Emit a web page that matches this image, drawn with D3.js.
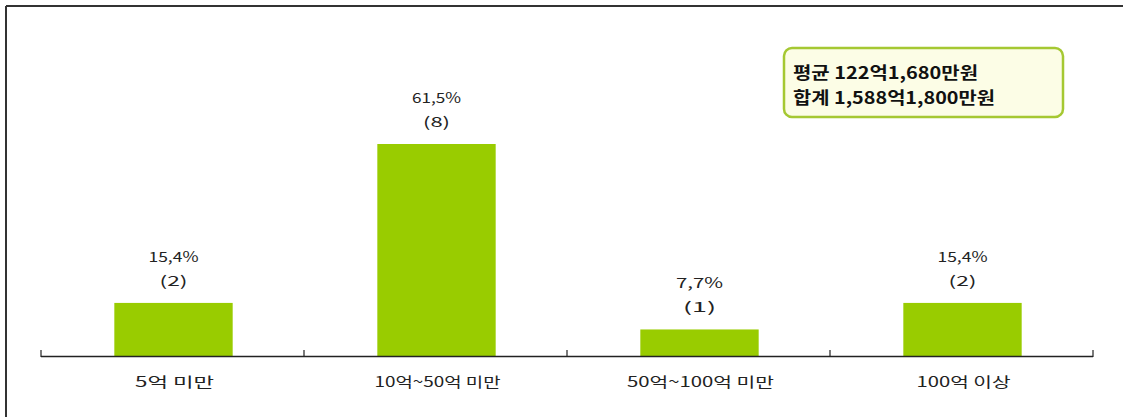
<!DOCTYPE html>
<html><head><meta charset="utf-8">
<script src="https://cdn.jsdelivr.net/npm/d3@7"></script>
<style>body{margin:0;background:#fff}svg{display:block}</style>
</head><body>
<svg id="chart" width="1123" height="417"></svg>
<script>
const categories = ["5억 미만", "10억~50억 미만", "50억~100억 미만", "100억 이상"];
const percents = [15.4, 61.5, 7.7, 15.4];
const counts = [2, 8, 1, 2];
const percentLabels = ["15,4%", "61,5%", "7,7%", "15,4%"];
const summaryLines = ["평균 122억1,680만원", "합계 1,588억1,800만원"];

// rendered text widths (layout only, to mimic the wide bitmap font)
const catWidths = [79, 126, 147, 94];
const pctWidths = [50, 49, 47, 50];
const cntWidths = [28, 27, 33, 28];
const summaryWidths = [185, 202];

const svg = d3.select("#chart");
const font = "'Noto Sans CJK KR', 'Noto Sans', sans-serif";

// frame (top and left)
svg.append("line").attr("x1",6).attr("y1",6).attr("x2",1123).attr("y2",6).attr("stroke","#333").attr("stroke-width",2);
svg.append("line").attr("x1",6).attr("y1",6).attr("x2",6).attr("y2",417).attr("stroke","#333").attr("stroke-width",2);

const x = d3.scaleBand().domain(categories).range([41, 1093]).paddingInner(0.55).paddingOuter(0.275);
const y = d3.scaleLinear().domain([0, 70]).range([356, 114.7]);

svg.selectAll("rect.bar").data(categories).enter().append("rect")
  .attr("class","bar")
  .attr("x", d => x(d) + 1)
  .attr("width", x.bandwidth())
  .attr("y", (d,i) => y(percents[i]))
  .attr("height", (d,i) => y(0) - y(percents[i]))
  .attr("fill", "#99cc00");

// axis
const axisG = svg.append("g");
axisG.append("line").attr("x1",41).attr("x2",1093).attr("y1",356.5).attr("y2",356.5).attr("stroke","#222").attr("stroke-width",1.5);
const bandStep = (1093-41)/categories.length;
d3.range(categories.length+1).forEach(i => {
  const tx = 41 + i*bandStep;
  axisG.append("line").attr("x1",tx).attr("x2",tx).attr("y1",350).attr("y2",357).attr("stroke","#222").attr("stroke-width",1.2);
});

const cx = (d) => x(d) + x.bandwidth()/2 + 1;

svg.selectAll("text.cat").data(categories).enter().append("text")
  .attr("x", (d,i) => 41 + i*bandStep + bandStep/2 + 2)
  .attr("y", 387)
  .attr("text-anchor","middle")
  .attr("font-family", font).attr("font-size", 14).attr("fill","#222")
  .attr("textLength", (d,i) => catWidths[i]).attr("lengthAdjust","spacingAndGlyphs")
  .text(d => d);

svg.selectAll("text.pct").data(categories).enter().append("text")
  .attr("x", d => cx(d))
  .attr("y", (d,i) => y(percents[i]) - 41)
  .attr("text-anchor","middle")
  .attr("font-family", font).attr("font-size", 14).attr("fill","#222")
  .attr("textLength", (d,i) => pctWidths[i]).attr("lengthAdjust","spacingAndGlyphs")
  .text((d,i) => percentLabels[i]);

svg.selectAll("text.cnt").data(categories).enter().append("text")
  .attr("x", d => cx(d))
  .attr("y", (d,i) => y(percents[i]) - 17)
  .attr("text-anchor","middle")
  .attr("font-family", font).attr("font-size", 14).attr("fill","#222")
  .attr("textLength", (d,i) => cntWidths[i]).attr("lengthAdjust","spacingAndGlyphs")
  .text((d,i) => "(" + counts[i] + ")");

// summary box
svg.append("rect").attr("x",784).attr("y",48).attr("width",279).attr("height",69).attr("rx",8)
  .attr("fill","#fcfde6").attr("stroke","#a5c832").attr("stroke-width",2.5);
summaryLines.forEach((t,i) => {
  svg.append("text").attr("x",793).attr("y",79 + i*25)
    .attr("font-family", font).attr("font-size", 17).attr("font-weight","bold").attr("fill","#111")
    .attr("textLength", summaryWidths[i]).attr("lengthAdjust","spacingAndGlyphs")
    .text(t);
});
</script>
</body></html>
